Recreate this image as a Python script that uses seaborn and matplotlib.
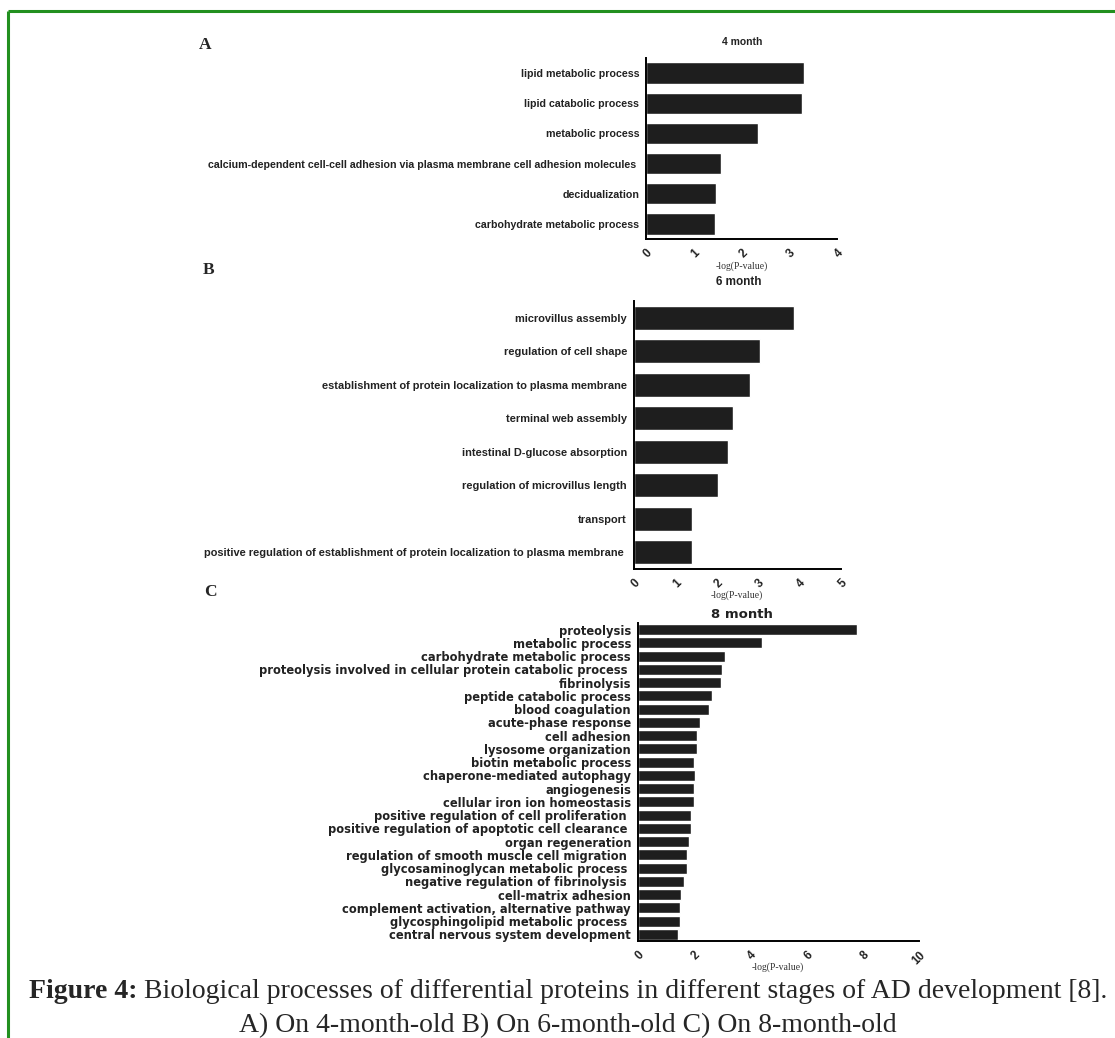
import matplotlib
matplotlib.use("Agg")
import matplotlib.pyplot as plt
import seaborn as sns
import pandas as pd
from matplotlib.lines import Line2D

# 4 month
terms_4m = [
    "lipid metabolic process",
    "lipid catabolic process",
    "metabolic process",
    "calcium-dependent cell-cell adhesion via plasma membrane cell adhesion molecules ",
    "decidualization",
    "carbohydrate metabolic process",
]
pval_4m = [3.31, 3.27, 2.35, 1.57, 1.47, 1.44]

# 6 month
terms_6m = [
    "microvillus assembly",
    "regulation of cell shape",
    "establishment of protein localization to plasma membrane",
    "terminal web assembly",
    "intestinal D-glucose absorption",
    "regulation of microvillus length",
    "transport",
    "positive regulation of establishment of protein localization to plasma membrane ",
]
pval_6m = [3.86, 3.04, 2.81, 2.39, 2.27, 2.03, 1.41, 1.40]

# 8 month
terms_8m = [
    "proteolysis",
    "metabolic process",
    "carbohydrate metabolic process",
    "proteolysis involved in cellular protein catabolic process ",
    "fibrinolysis",
    "peptide catabolic process",
    "blood coagulation",
    "acute-phase response",
    "cell adhesion",
    "lysosome organization",
    "biotin metabolic process",
    "chaperone-mediated autophagy",
    "angiogenesis",
    "cellular iron ion homeostasis",
    "positive regulation of cell proliferation ",
    "positive regulation of apoptotic cell clearance ",
    "organ regeneration",
    "regulation of smooth muscle cell migration ",
    "glycosaminoglycan metabolic process ",
    "negative regulation of fibrinolysis ",
    "cell-matrix adhesion",
    "complement activation, alternative pathway",
    "glycosphingolipid metabolic process ",
    "central nervous system development",
]
pval_8m = [7.8, 4.4, 3.1, 3.0, 2.96, 2.62, 2.54, 2.19, 2.1, 2.1, 2.01, 2.02,
           1.98, 1.98, 1.89, 1.89, 1.81, 1.73, 1.73, 1.65, 1.54, 1.51, 1.51, 1.42]

W, H = 1115, 1038
BAR = "#1e1e1e"
GREEN = "#22901f"


def px_axes(fig, left, top, right, bottom):
    return fig.add_axes([left / W, 1 - bottom / H, (right - left) / W, (bottom - top) / H])


def draw_panel(fig, box, terms, values, xmax, xstep, label_font, label_size, bar_width):
    ax = px_axes(fig, *box)
    df = pd.DataFrame({"term": terms, "value": values})
    sns.barplot(data=df, x="value", y="term", orient="h", color=BAR,
                width=bar_width, saturation=1, ax=ax)
    ax.set_xlim(0, xmax)
    ax.set_ylim(len(terms) - 0.5, -0.5)
    ax.set_xticks(range(0, xmax + 1, xstep))
    ax.set_xlabel("")
    ax.set_ylabel("")
    for side in ["top", "right"]:
        ax.spines[side].set_visible(False)
    for side in ["left", "bottom"]:
        ax.spines[side].set_linewidth(1.4)
        ax.spines[side].set_color("black")
    ax.tick_params(axis="y", length=4, width=1.4, pad=1)
    ax.tick_params(axis="x", length=4, width=1.4, pad=2, labelsize=8.5)
    for lab in ax.get_yticklabels():
        lab.set_fontfamily(label_font)
        lab.set_fontweight("bold")
        lab.set_fontsize(label_size)
        lab.set_color("#222222")
    for lab in ax.get_xticklabels():
        lab.set_rotation(45)
        lab.set_ha("right")
        lab.set_va("top")
        lab.set_rotation_mode("anchor")
        lab.set_fontfamily("Liberation Sans")
        lab.set_fontweight("bold")
        lab.set_color("#222222")
    return ax


def ftext(fig, x, y, s, **kw):
    return fig.text(x / W, 1 - y / H, s, **kw)


sns.set_style("white")
plt.rcParams["font.family"] = ["Liberation Sans", "DejaVu Sans"]

fig = plt.figure(figsize=(W / 100, H / 100), dpi=100)

draw_panel(fig, (646, 58, 837, 239), terms_4m, pval_4m, 4, 1, "Liberation Sans", 7.7, 0.71)
draw_panel(fig, (634, 301, 841, 569), terms_6m, pval_6m, 5, 1, "Liberation Sans", 7.9, 0.71)
draw_panel(fig, (638, 623, 919, 941), terms_8m, pval_8m, 10, 2, "DejaVu Sans", 8.3, 0.82)

# titles, axis labels and panel letters
ftext(fig, 742, 42, "4 month", ha="center", va="center", fontsize=7.5, fontweight="bold", color="#222222")
ftext(fig, 739, 282, "6 month", ha="center", va="center", fontsize=8.5, fontweight="bold", color="#222222")
ftext(fig, 742, 614, "8 month", ha="center", va="center", fontsize=9.5, fontweight="bold",
      family="DejaVu Sans", color="#222222")
for x, y in [(742, 266), (737, 595), (778, 967)]:
    ftext(fig, x, y, "-log(P-value)", ha="center", va="center", fontsize=7,
          family="Liberation Serif", color="#333333")
for s, x, y in [("A", 205, 45), ("B", 209, 270), ("C", 210, 592)]:
    ftext(fig, x, y, s, ha="center", va="center", fontsize=12.5, fontweight="bold",
          family="Liberation Serif")

# caption
cap_bold = "Figure 4:"
cap_rest = " Biological processes of differential proteins in different stages of AD development [8]."
cap_size = 20
cap_cx = 568
renderer = fig.canvas.get_renderer()
t1 = ftext(fig, 0, 998, cap_bold, fontsize=cap_size, fontweight="bold", family="Liberation Serif",
           ha="left", va="baseline")
t2 = ftext(fig, 0, 998, cap_rest, fontsize=cap_size, family="Liberation Serif", ha="left", va="baseline")
w1 = t1.get_window_extent(renderer).width
w2 = t2.get_window_extent(renderer).width
x0 = cap_cx - (w1 + w2) / 2
t1.set_x(x0 / W)
t2.set_x((x0 + w1) / W)
ftext(fig, cap_cx, 1032, "A) On 4-month-old B) On 6-month-old C) On 8-month-old",
      fontsize=cap_size, family="Liberation Serif", ha="center", va="baseline")

# green frame
fig.add_artist(Line2D([8 / W, 1], [1 - 11 / H, 1 - 11 / H], color=GREEN, lw=2.2,
                      transform=fig.transFigure, solid_capstyle="butt"))
fig.add_artist(Line2D([8 / W, 8 / W], [1 - 11 / H, 0], color=GREEN, lw=2.2,
                      transform=fig.transFigure, solid_capstyle="butt"))

fig.savefig("out.png", dpi=100)
